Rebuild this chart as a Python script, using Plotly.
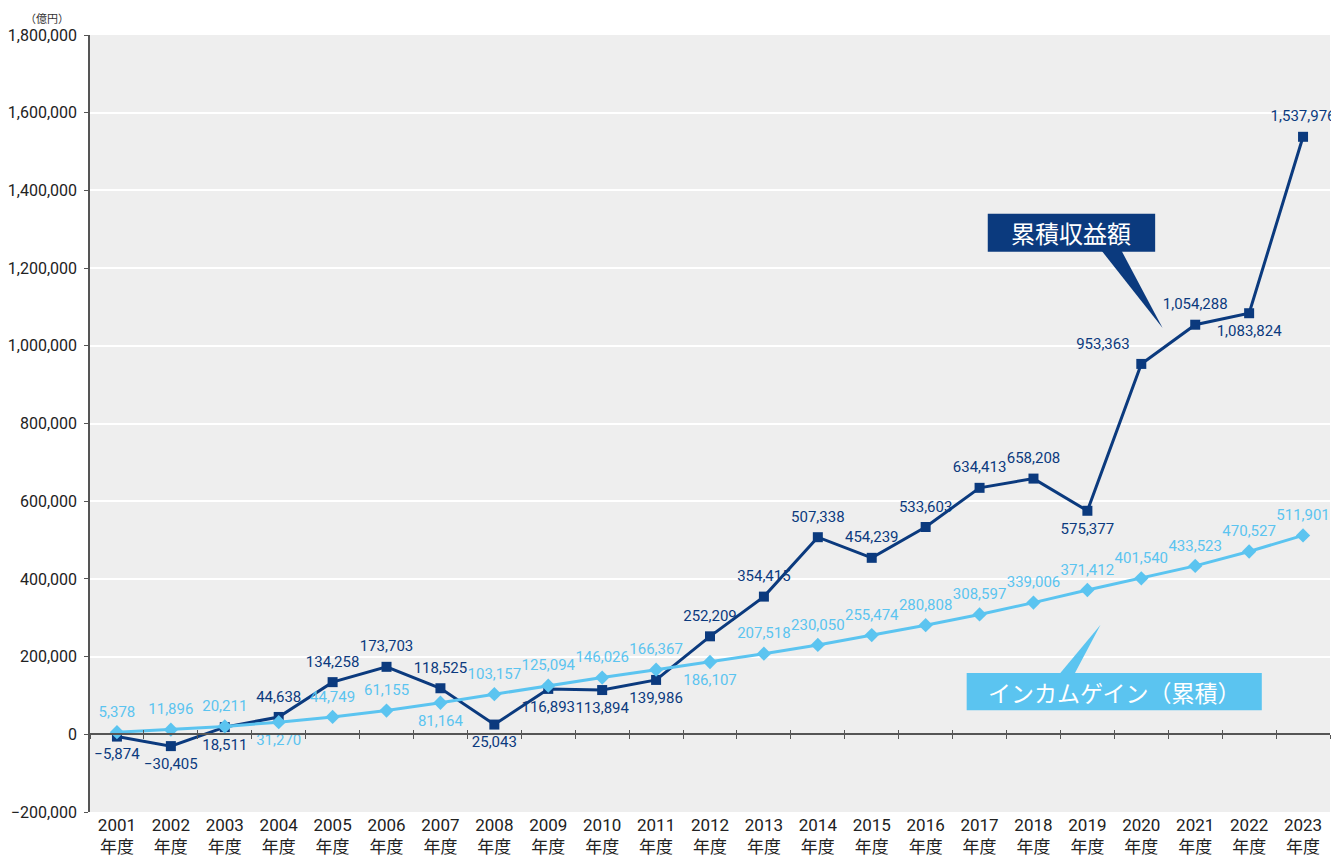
import plotly.graph_objects as go

# 年度 (fiscal years) and cumulative values, 億円
years = [str(y) for y in range(2001, 2024)]
cumulative_return = [
    -5874, -30405, 18511, 44638, 134258, 173703, 118525, 25043, 116893, 113894,
    139986, 252209, 354415, 507338, 454239, 533603, 634413, 658208, 575377,
    953363, 1054288, 1083824, 1537976,
]
income_gain = [
    5378, 11896, 20211, 31270, 44749, 61155, 81164, 103157, 125094, 146026,
    166367, 186107, 207518, 230050, 255474, 280808, 308597, 339006, 371412,
    401540, 433523, 470527, 511901,
]
y_ticks = [-200000, 0, 200000, 400000, 600000, 800000, 1000000, 1200000,
           1400000, 1600000, 1800000]

NAVY = "#0b3a7e"
SKY = "#5bc4f0"
AXIS = "#555555"
FONT = "Roboto, 'Noto Sans CJK JP', sans-serif"
JP = "'Noto Sans CJK JP', sans-serif"

cats = [f"{y}<br>年度" for y in years]


def fmt(v):
    return f"{v:,}".replace("-", "\u2212")


dark_pos = ["bottom center"] * 3 + ["top center"] * 4 + ["bottom center"] * 4 \
    + ["top center"] * 7 + ["bottom center", "top left", "top center",
                            "bottom center", "top center"]
light_pos = ["top center"] * 3 + ["bottom center"] + ["top center"] * 2 \
    + ["bottom center"] + ["top center"] * 4 + ["bottom center"] \
    + ["top center"] * 11

fig = go.Figure()

series = [
    ("累積収益額", cumulative_return, NAVY, "square", 10, dark_pos),
    ("インカムゲイン（累積）", income_gain, SKY, "diamond", 11, light_pos),
]
for name, vals, color, symbol, size, pos in series:
    fig.add_trace(go.Scatter(
        x=cats, y=vals, mode="lines+markers", name=name,
        line=dict(color=color, width=3),
        marker=dict(symbol=symbol, size=size, color=color),
    ))
# value labels: invisible larger markers give the labels more room
for name, vals, color, symbol, size, pos in series:
    fig.add_trace(go.Scatter(
        x=cats, y=vals, mode="markers+text", name=name, showlegend=False,
        marker=dict(size=17, opacity=0), hoverinfo="skip",
        text=[fmt(v) for v in vals], textposition=pos,
        textfont=dict(family=FONT, size=15, color=color),
        cliponaxis=False,
    ))

# helper traces so the zero-line axes with boundary ticks get drawn
for ax in ("x2", "x3"):
    fig.add_trace(go.Scatter(x=[0], y=[None], xaxis=ax, yaxis="y",
                             showlegend=False, hoverinfo="skip"))

boundaries = [i - 0.5 for i in range(len(years) + 1)]
zero_axis = dict(
    overlaying="x", anchor="free", position=0.1, range=[-0.5, len(years) - 0.5],
    showline=True, linecolor=AXIS, linewidth=1.5, tickvals=boundaries,
    showticklabels=False, ticklen=4, tickcolor=AXIS, tickwidth=1.2,
    showgrid=False, zeroline=False, automargin=False,
)

# the page body adds an 8px margin, so the figure is 8px smaller than the window
fig.update_layout(
    width=1331, height=851,
    paper_bgcolor="white", plot_bgcolor="#eeeeee",
    margin=dict(l=82, r=9, t=27, b=47, autoexpand=False),
    showlegend=False,
    font=dict(family=FONT, color="#222222"),
    xaxis=dict(
        type="category", range=[-0.5, len(years) - 0.5], automargin=False,
        showline=False, ticks="", showgrid=False, zeroline=False,
        ticklabelstandoff=1,
        tickfont=dict(family=FONT, size=17, color="#222222"),
    ),
    xaxis2=dict(zero_axis, ticks="outside"),
    xaxis3=dict(zero_axis, ticks="inside"),
    yaxis=dict(
        range=[-200000, 1800000], tickvals=y_ticks, tickformat=",d",
        automargin=False,
        showline=True, linecolor=AXIS, linewidth=1.5,
        ticks="outside", ticklen=4, tickcolor=AXIS,
        gridcolor="white", gridwidth=2, zeroline=False,
        ticklabelstandoff=4,
        tickfont=dict(family=FONT, size=16, color="#222222"),
    ),
)

# unit label
fig.add_annotation(text="（億円）", xref="paper", yref="paper", x=-0.035, y=1.0,
                   yshift=17, showarrow=False, xanchor="center", yanchor="middle",
                   font=dict(family=JP, size=11, color="#333333"))

# callout: 累積収益額
fig.add_shape(type="rect", xref="paper", yref="paper",
              x0=0.724, x1=0.859, y0=0.721, y1=0.770,
              fillcolor=NAVY, line=dict(width=0), layer="above")
fig.add_shape(type="path", xref="paper", yref="paper",
              path="M 0.816 0.722 L 0.832 0.722 L 0.865 0.623 Z",
              fillcolor=NAVY, line=dict(width=0), layer="above")
fig.add_annotation(text="累積収益額", xref="paper", yref="paper",
                   x=0.7915, y=0.7455, showarrow=False,
                   xanchor="center", yanchor="middle",
                   font=dict(family=JP, size=24, color="white"))

# callout: インカムゲイン（累積）
fig.add_shape(type="rect", xref="paper", yref="paper",
              x0=0.707, x1=0.945, y0=0.131, y1=0.179,
              fillcolor=SKY, line=dict(width=0), layer="above")
fig.add_shape(type="path", xref="paper", yref="paper",
              path="M 0.782 0.178 L 0.794 0.178 L 0.815 0.241 Z",
              fillcolor=SKY, line=dict(width=0), layer="above")
fig.add_annotation(text="インカムゲイン（累積）", xref="paper", yref="paper",
                   x=0.826, y=0.155, showarrow=False,
                   xanchor="center", yanchor="middle",
                   font=dict(family=JP, size=23, color="white"))

fig.write_html("out.html")
